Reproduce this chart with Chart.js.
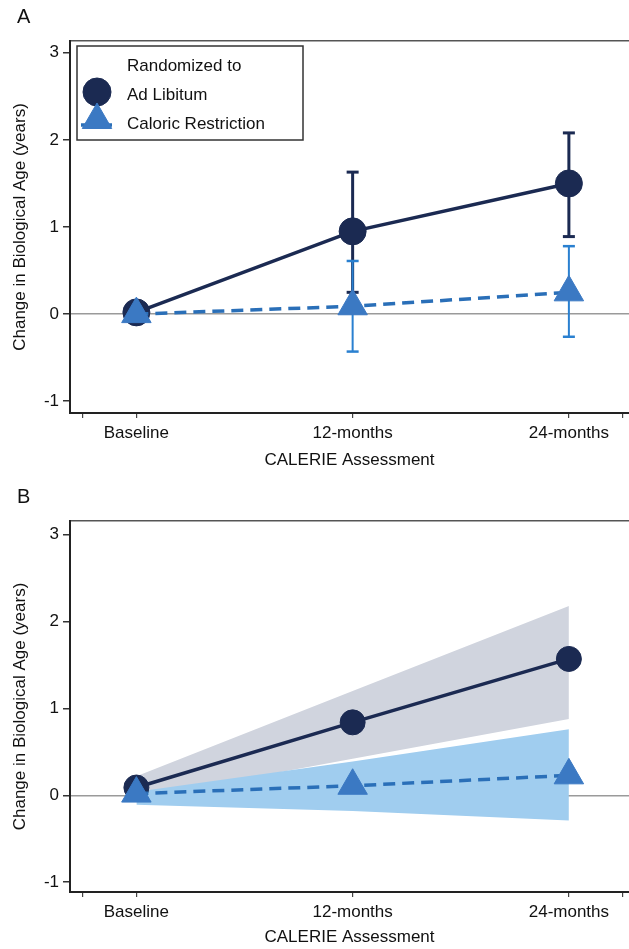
<!DOCTYPE html>
<html>
<head>
<meta charset="utf-8">
<script src="https://cdn.jsdelivr.net/npm/chart.js@4.4.1/dist/chart.umd.min.js"></script>
<style>
  body { margin: 0; background: #fff; overflow: hidden; }
  canvas { display: block; }
</style>
</head>
<body>
<canvas id="chartA" width="629" height="475"></canvas>
<canvas id="chartB" width="629" height="474"></canvas>
<script>
const xLabels = ['Baseline', '12-months', '24-months'];
const yTicks = [-1, 0, 1, 2, 3];

// panel A - observed means with 95% CI
const adLibA = [0.02, 0.95, 1.50];
const adLibLowA = [null, 0.25, 0.89];
const adLibHighA = [null, 1.63, 2.08];
const calResA = [0, 0.09, 0.25];
const calResLowA = [null, -0.43, -0.26];
const calResHighA = [null, 0.61, 0.78];

// panel B - fitted trend with confidence band
const adLibB = [0.09, 0.84, 1.57];
const adLibBandLo = [-0.04, 0.42, 0.88];
const adLibBandHi = [0.22, 1.20, 2.18];
const calResB = [0.02, 0.11, 0.23];
const calResBandLo = [-0.11, -0.18, -0.29];
const calResBandHi = [0.04, 0.39, 0.76];

const NAVY = '#1b2a52';
const CR_FILL = '#3b79c3';
const CR_LINE = '#2a6fb8';
const CR_BAR = '#2a80d0';

Chart.defaults.font.family = '"Liberation Sans", Arial, Helvetica, sans-serif';
Chart.defaults.color = '#111';

const pts = ys => ys.map((y, i) => ({x: i, y: y}));
const whiskers = (lo, hi) => lo.flatMap((v, i) => v === null ? [] :
  [{x: i, y: v}, {x: i, y: hi[i]}, {x: i, y: null}]);

function marker(ctx, style, r, x, y, color) {
  ctx.fillStyle = color;
  ctx.strokeStyle = color;
  ctx.lineWidth = 1;
  Chart.helpers.drawPoint(ctx, {pointStyle: style, radius: r, borderWidth: 1, rotation: 0}, x, y);
}

const panelLetter = {
  id: 'panelLetter',
  afterDraw(chart, args, opts) {
    const ctx = chart.ctx;
    ctx.save();
    ctx.font = '20px "Liberation Sans", Arial, sans-serif';
    ctx.fillStyle = '#111';
    ctx.textBaseline = 'middle';
    ctx.fillText(opts.text, 17, opts.y);
    ctx.restore();
  }
};

const boxLegend = {
  id: 'boxLegend',
  afterDraw(chart, args, opts) {
    if (!opts.show) return;
    const ctx = chart.ctx;
    const a = chart.chartArea;
    const x0 = a.left + 7, y0 = a.top + 5;
    ctx.save();
    ctx.fillStyle = '#fff';
    ctx.fillRect(x0, y0, 226, 94);
    ctx.strokeStyle = '#333';
    ctx.lineWidth = 1.5;
    ctx.strokeRect(x0, y0, 226, 94);
    ctx.font = '17px "Liberation Sans", Arial, sans-serif';
    ctx.textBaseline = 'middle';
    ctx.fillStyle = '#111';
    ctx.fillText(opts.title, x0 + 50, y0 + 20);

    marker(ctx, 'circle', 14, x0 + 20, y0 + 46, NAVY);
    ctx.fillStyle = '#111';
    ctx.fillText('Ad Libitum', x0 + 50, y0 + 49);

    ctx.strokeStyle = CR_LINE;
    ctx.lineWidth = 3.5;
    ctx.setLineDash([12, 7]);
    ctx.beginPath();
    ctx.moveTo(x0 + 4, y0 + 79);
    ctx.lineTo(x0 + 36, y0 + 79);
    ctx.stroke();
    ctx.setLineDash([]);
    marker(ctx, 'triangle', 17, x0 + 20, y0 + 74, CR_FILL);
    ctx.fillStyle = '#111';
    ctx.fillText('Caloric Restriction', x0 + 50, y0 + 78);
    ctx.restore();
  }
};

function makeScales(yMin, yMax, xHeight, titlePad) {
  return {
    x: {
      type: 'linear', min: -0.307, max: 2.278,
      afterBuildTicks: s => { s.ticks = [-0.25, 0, 1, 2, 2.25].map(v => ({value: v})); },
      afterFit: s => { s.height = xHeight; s.paddingLeft = 0; s.paddingRight = 0; },
      ticks: {
        autoSkip: false, maxRotation: 0, padding: 5, color: '#111',
        font: {size: 17},
        callback: v => Number.isInteger(v) ? xLabels[v] : ''
      },
      grid: {drawOnChartArea: false, color: '#444', tickLength: 5, lineWidth: 1.2},
      border: {color: '#222', width: 2},
      title: {display: true, text: 'CALERIE Assessment', color: '#111', font: {size: 17},
              padding: {top: 0, bottom: titlePad}}
    },
    xTop: {
      type: 'linear', position: 'top', min: 0, max: 1,
      afterFit: s => { s.paddingLeft = 0; s.paddingRight = 0; },
      ticks: {display: false},
      grid: {display: false},
      border: {display: true, color: '#555', width: 1.5}
    },
    y: {
      min: yMin, max: yMax,
      afterBuildTicks: s => { s.ticks = yTicks.map(v => ({value: v})); },
      afterFit: s => { s.width = 70; },
      ticks: {padding: 4, color: '#111', font: {size: 17}},
      grid: {
        color: c => (c.tick && c.tick.value === 0) ? '#9a9a9a' : 'rgba(0,0,0,0)',
        tickColor: '#333', tickLength: 7, lineWidth: 1.5
      },
      border: {color: '#222', width: 2},
      title: {display: true, text: 'Change in Biological Age (years)', color: '#111',
              font: {size: 17}, padding: {top: 10, bottom: 0}}
    }
  };
}

function baseOptions(top, letterY, legend) {
  return {
    responsive: false,
    animation: false,
    layout: {autoPadding: false, padding: {top: top, left: 0, right: 0, bottom: 0}},
    plugins: {
      legend: {display: false},
      tooltip: {enabled: false},
      filler: {drawTime: 'beforeDatasetsDraw'},
      panelLetter: {text: legend ? 'A' : 'B', y: letterY},
      boxLegend: {show: legend, title: 'Randomized to'}
    }
  };
}

const optsA = baseOptions(33, 17, true);
optsA.scales = makeScales(-1.135, 3.135, 62, 4);

new Chart(document.getElementById('chartA'), {
  type: 'line',
  data: {
    datasets: [
      {label: 'Caloric Restriction', data: pts(calResA), borderColor: CR_LINE, borderWidth: 3.5,
       borderDash: [12, 7], pointStyle: 'triangle', pointRadius: 17, pointBackgroundColor: CR_FILL,
       pointBorderColor: CR_FILL, pointBorderWidth: 1, order: 1},
      {label: 'CR 95% CI', data: whiskers(calResLowA, calResHighA), borderColor: CR_BAR, borderWidth: 2,
       pointStyle: 'line', pointRadius: 6, pointBorderColor: CR_BAR, pointBorderWidth: 2.5, order: 2},
      {label: 'Ad Libitum', data: pts(adLibA), borderColor: NAVY, borderWidth: 3.5,
       pointStyle: 'circle', pointRadius: 13.5, pointBackgroundColor: NAVY,
       pointBorderColor: NAVY, pointBorderWidth: 1, order: 3},
      {label: 'AL 95% CI', data: whiskers(adLibLowA, adLibHighA), borderColor: NAVY, borderWidth: 3,
       pointStyle: 'line', pointRadius: 6, pointBorderColor: NAVY, pointBorderWidth: 3, order: 4}
    ]
  },
  options: optsA,
  plugins: [panelLetter, boxLegend]
});

const optsB = baseOptions(38, 22, false);
optsB.scales = makeScales(-1.113, 3.158, 57, 1);

new Chart(document.getElementById('chartB'), {
  type: 'line',
  data: {
    datasets: [
      {label: 'Caloric Restriction', data: pts(calResB), borderColor: CR_LINE, borderWidth: 3.5,
       borderDash: [12, 7], pointStyle: 'triangle', pointRadius: 17, pointBackgroundColor: CR_FILL,
       pointBorderColor: CR_FILL, pointBorderWidth: 1, order: 1},
      {label: 'Ad Libitum', data: pts(adLibB), borderColor: NAVY, borderWidth: 3.5,
       pointStyle: 'circle', pointRadius: 12.5, pointBackgroundColor: NAVY,
       pointBorderColor: NAVY, pointBorderWidth: 1, order: 2},
      {label: 'CR band', data: pts(calResBandHi), fill: 3, backgroundColor: '#a0cdef',
       borderWidth: 0, pointRadius: 0, order: 3},
      {label: 'CR band low', data: pts(calResBandLo), borderWidth: 0, pointRadius: 0, order: 3},
      {label: 'AL band', data: pts(adLibBandHi), fill: 5, backgroundColor: '#d0d4de',
       borderWidth: 0, pointRadius: 0, order: 4},
      {label: 'AL band low', data: pts(adLibBandLo), borderWidth: 0, pointRadius: 0, order: 4}
    ]
  },
  options: optsB,
  plugins: [panelLetter, boxLegend]
});
</script>
</body>
</html>
